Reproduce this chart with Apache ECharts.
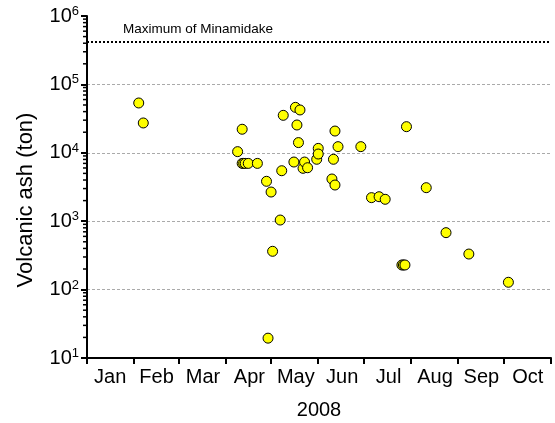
<!DOCTYPE html>
<html><head><meta charset="utf-8">
<script src="https://cdn.jsdelivr.net/npm/echarts@6/dist/echarts.min.js"></script>
<style>html,body{margin:0;padding:0;background:#fff}#c{width:555px;height:423px}</style>
</head><body><div id="c"></div>
<script>
const YEAR = 2008;
const months = ['Jan','Feb','Mar','Apr','May','Jun','Jul','Aug','Sep','Oct'];
const eventDates = [
  '2008-02-04','2008-02-07','2008-04-09','2008-04-12','2008-04-12','2008-04-13','2008-04-14','2008-04-16',
  '2008-04-22','2008-04-28','2008-04-29','2008-05-01','2008-05-02','2008-05-07','2008-05-08','2008-05-09',
  '2008-05-16','2008-05-17','2008-05-18','2008-05-19','2008-05-20','2008-05-22','2008-05-23','2008-05-25',
  '2008-05-31','2008-06-01','2008-06-01','2008-06-10','2008-06-11','2008-06-12','2008-06-12','2008-06-14',
  '2008-06-29','2008-07-06','2008-07-11','2008-07-15','2008-07-26','2008-07-27','2008-07-28','2008-07-29',
  '2008-08-11','2008-08-24','2008-09-08','2008-10-04'
];
const ashTons = [
  53500, 27300, 10400, 22100, 7000, 7000, 7000, 7000,
  7000, 3830, 19.5, 2670, 363, 1040, 5470, 35300,
  7330, 46200, 25500, 14100, 42300, 5930, 7330, 6050,
  8040, 11600, 9600, 4140, 8040, 3380, 20800, 12300,
  12300, 2210, 2280, 2090, 229, 229, 229, 24100,
  3090, 680, 331, 128
];
const minamidakeMax = 420000;
const minamidakeLabel = 'Maximum of Minamidake';
const yMinExp = 1, yMaxExp = 6;
const xTitle = String(YEAR);
const yTitle = 'Volcanic ash (ton)';

const FONT = '"Liberation Sans", Arial, sans-serif';
const monthStarts = [];
for (let i = 0; i <= months.length; i++) monthStarts.push(+new Date(YEAR, i, 1));
// minor log ticks 2..9 x 10^e (axis decoration)
const minorTickValues = [];
for (let e = yMinExp; e < yMaxExp; e++) for (let m = 2; m <= 9; m++) minorTickValues.push(m * Math.pow(10, e));

const chart = echarts.init(document.getElementById('c'), null, {renderer: 'canvas'});
chart.setOption({
  animation: false,
  backgroundColor: '#fff',
  grid: {left: 87, right: 4, top: 16, bottom: 65, outerBoundsMode: 'none', containLabel: false},
  xAxis: [
    {
      type: 'category', data: months, boundaryGap: true, position: 'bottom',
      axisLine: {show: false}, axisTick: {show: false}, splitLine: {show: false},
      axisLabel: {color: '#000', fontFamily: FONT, fontSize: 20, margin: 9, interval: 0, hideOverlap: false},
      name: xTitle, nameLocation: 'middle', nameGap: 42,
      nameTextStyle: {color: '#000', fontFamily: FONT, fontSize: 20}
    },
    {
      type: 'time', position: 'bottom', min: monthStarts[0], max: monthStarts[monthStarts.length - 1],
      axisLine: {show: true, onZero: false, lineStyle: {color: '#000', width: 2}},
      axisTick: {show: true, inside: false, length: 6, lineStyle: {color: '#000', width: 2}, customValues: monthStarts},
      axisLabel: {show: false}, splitLine: {show: false}
    }
  ],
  yAxis: [
    {
      type: 'log', logBase: 10, min: Math.pow(10, yMinExp), max: Math.pow(10, yMaxExp), position: 'left',
      axisLine: {show: true, onZero: false, lineStyle: {color: '#000', width: 2}},
      axisTick: {show: true, length: 6, lineStyle: {color: '#000', width: 2}},
      splitLine: {show: true, showMinLine: false, showMaxLine: false, lineStyle: {color: '#aaa', type: [3, 2], width: 1}},
      axisLabel: {
        margin: 8, fontFamily: FONT, color: '#000',
        formatter: v => '{b|10}{s|' + Math.round(Math.log10(v)) + '}',
        rich: {
          b: {fontSize: 20, fontFamily: FONT, color: '#000', lineHeight: 20},
          s: {fontSize: 13, fontFamily: FONT, color: '#000', verticalAlign: 'top', padding: [0, 0, 9, 0]}
        }
      },
      name: yTitle, nameLocation: 'middle', nameGap: 50, nameRotate: 90,
      nameTextStyle: {color: '#000', fontFamily: FONT, fontSize: 22, padding: [0, 26, 0, 0]}
    }
  ],
  series: [
    {
      type: 'custom', xAxisIndex: 1, yAxisIndex: 0, silent: true, clip: false, z: 1,
      data: minorTickValues.map(v => [monthStarts[0], v]),
      renderItem: (params, api) => {
        const p = api.coord([api.value(0), api.value(1)]);
        return {type: 'line', shape: {x1: p[0] - 4, y1: p[1], x2: p[0], y2: p[1]},
                style: {stroke: '#000', lineWidth: 1.5}};
      }
    },
    {
      type: 'scatter', xAxisIndex: 1, yAxisIndex: 0, z: 3,
      data: eventDates.map((d, i) => [d, ashTons[i]]),
      symbol: 'circle', symbolSize: 10,
      itemStyle: {color: '#ffff00', borderColor: '#000', borderWidth: 1, opacity: 1},
      markLine: {
        silent: true, symbol: 'none', animation: false,
        lineStyle: {color: '#000', type: [2, 2], width: 2},
        label: {
          show: true, position: 'insideStartTop', distance: [36, 5],
          formatter: minamidakeLabel, color: '#000',
          fontFamily: FONT, fontSize: 13.5
        },
        data: [{yAxis: minamidakeMax}]
      }
    }
  ]
});
</script></body></html>
